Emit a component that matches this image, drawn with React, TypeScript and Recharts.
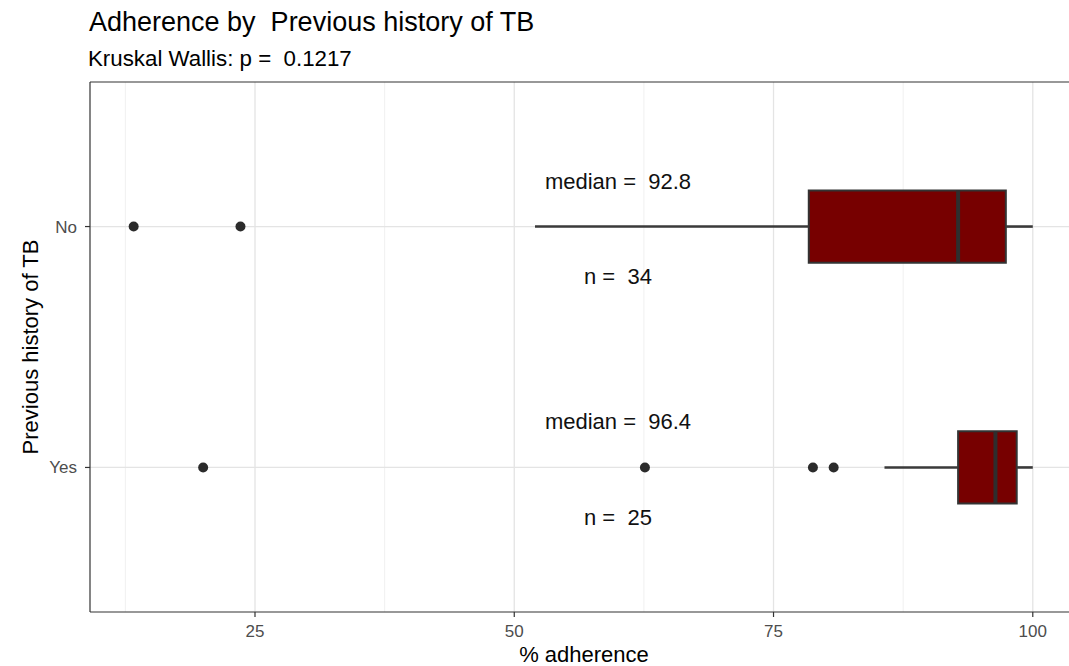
import React from 'react';
import {
  ComposedChart,
  Scatter,
  XAxis,
  YAxis,
  CartesianGrid,
  ReferenceArea,
  ReferenceLine,
  ReferenceDot,
} from 'recharts';

// Box-plot summary per group (values in % adherence)
const groups = ['No', 'Yes'];
const groupPos = [1, 2];
const whiskerLow = [52.0, 85.7];
const lowerQuartile = [78.4, 92.8];
const medians = [92.8, 96.4];
const upperQuartile = [97.4, 98.45];
const whiskerHigh = [100, 100];
const counts = [34, 25];

// Points beyond the whiskers
const outliersNo = [13.3, 23.6];
const outliersYes = [20.0, 62.6, 78.8, 80.8];

// Axis ticks
const majorTicks = [25, 50, 75, 100];
const minorTicks = [12.5, 37.5, 62.5, 87.5];

const title = 'Adherence by\u00A0 Previous history of TB';
const subtitle = 'Kruskal Wallis: p =\u00A0 0.1217';

const X_DOMAIN: [number, number] = [9.09, 104.36];
const Y_DOMAIN: [number, number] = [0.4, 2.6];
const BOX_HALF = 0.15;
const LABEL_X = 60;
const MEDIAN_LABEL_OFFSET = -0.19;
const COUNT_LABEL_OFFSET = 0.207;

const FONT = '"Liberation Sans", Arial, Helvetica, sans-serif';
const INK = '#333333';
const BOX_FILL = '#770000';

const outlierPoints = [
  ...outliersNo.map((x) => ({ x, y: groupPos[0] })),
  ...outliersYes.map((x) => ({ x, y: groupPos[1] })),
];

const OutlierDot = (props: any) => (
  <circle cx={props.cx} cy={props.cy} r={5} fill="#2b2b2b" />
);

export default function App() {
  return (
    <div
      style={{
        position: 'absolute',
        left: 0,
        top: 0,
        width: 1069,
        height: 666,
        overflow: 'hidden',
        background: '#ffffff',
        fontFamily: FONT,
      }}
    >
      <svg
        width={1069}
        height={80}
        style={{ position: 'absolute', left: 0, top: 0, fontFamily: FONT }}
      >
        <text x={89} y={31} fontSize={27} fill="#000">
          {title}
        </text>
        <text x={88} y={66} fontSize={22.3} fill="#000">
          {subtitle}
        </text>
      </svg>
      <ComposedChart
        width={1080}
        height={666}
        margin={{ top: 82, right: 2, bottom: 0, left: 0 }}
      >
        <CartesianGrid
          stroke="#F0F0F0"
          strokeWidth={1}
          horizontal={false}
          verticalValues={minorTicks}
        />
        <CartesianGrid
          stroke="#E4E4E4"
          strokeWidth={1.3}
          verticalValues={majorTicks}
          horizontalValues={groupPos}
        />
        <XAxis
          type="number"
          dataKey="x"
          domain={X_DOMAIN}
          allowDataOverflow
          ticks={majorTicks}
          height={54}
          tickSize={5}
          tickMargin={8}
          tick={{ fontSize: 17, fill: '#4D4D4D' }}
          axisLine={{ stroke: INK, strokeWidth: 1.2 }}
          tickLine={{ stroke: INK, strokeWidth: 1.2 }}
          label={{
            value: '% adherence',
            position: 'insideBottom',
            offset: 4,
            fontSize: 22,
            fill: '#000',
          }}
        />
        <YAxis
          type="number"
          dataKey="y"
          domain={Y_DOMAIN}
          allowDataOverflow
          reversed
          ticks={groupPos}
          tickFormatter={(v: number) => groups[groupPos.indexOf(v)] ?? ''}
          width={90}
          tickSize={5}
          tickMargin={8}
          tick={{ fontSize: 17, fill: '#4D4D4D' }}
          axisLine={{ stroke: INK, strokeWidth: 1.2 }}
          tickLine={{ stroke: INK, strokeWidth: 1.2 }}
          label={{
            value: 'Previous history of TB',
            angle: -90,
            position: 'insideLeft',
            offset: 30,
            fontSize: 22,
            fill: '#000',
            style: { textAnchor: 'middle' },
          }}
        />
        {/* top panel border */}
        <ReferenceLine y={Y_DOMAIN[0]} stroke={INK} strokeWidth={1.2} />

        {groupPos.map((pos, i) => (
          <ReferenceArea
            key={`box-${i}`}
            x1={lowerQuartile[i]}
            x2={upperQuartile[i]}
            y1={pos - BOX_HALF}
            y2={pos + BOX_HALF}
            fill={BOX_FILL}
            fillOpacity={1}
            stroke={INK}
            strokeWidth={2}
          />
        ))}
        {groupPos.map((pos, i) => (
          <ReferenceLine
            key={`wl-${i}`}
            segment={[
              { x: whiskerLow[i], y: pos },
              { x: lowerQuartile[i], y: pos },
            ]}
            stroke="#3a3a3a"
            strokeWidth={2.6}
          />
        ))}
        {groupPos.map((pos, i) => (
          <ReferenceLine
            key={`wh-${i}`}
            segment={[
              { x: upperQuartile[i], y: pos },
              { x: whiskerHigh[i], y: pos },
            ]}
            stroke="#3a3a3a"
            strokeWidth={2.6}
          />
        ))}
        {groupPos.map((pos, i) => (
          <ReferenceLine
            key={`med-${i}`}
            segment={[
              { x: medians[i], y: pos - BOX_HALF },
              { x: medians[i], y: pos + BOX_HALF },
            ]}
            stroke="#2e2e2e"
            strokeWidth={4}
          />
        ))}

        <Scatter
          data={outlierPoints}
          shape={OutlierDot}
          isAnimationActive={false}
        />

        {groupPos.map((pos, i) => (
          <ReferenceDot
            key={`ml-${i}`}
            x={LABEL_X}
            y={pos + MEDIAN_LABEL_OFFSET}
            r={0}
            fill="none"
            stroke="none"
            label={{
              value: `median =\u00A0 ${medians[i]}`,
              position: 'center',
              fontSize: 22,
              fill: '#111',
            }}
          />
        ))}
        {groupPos.map((pos, i) => (
          <ReferenceDot
            key={`nl-${i}`}
            x={LABEL_X}
            y={pos + COUNT_LABEL_OFFSET}
            r={0}
            fill="none"
            stroke="none"
            label={{
              value: `n =\u00A0 ${counts[i]}`,
              position: 'center',
              fontSize: 22,
              fill: '#111',
            }}
          />
        ))}
      </ComposedChart>
    </div>
  );
}
